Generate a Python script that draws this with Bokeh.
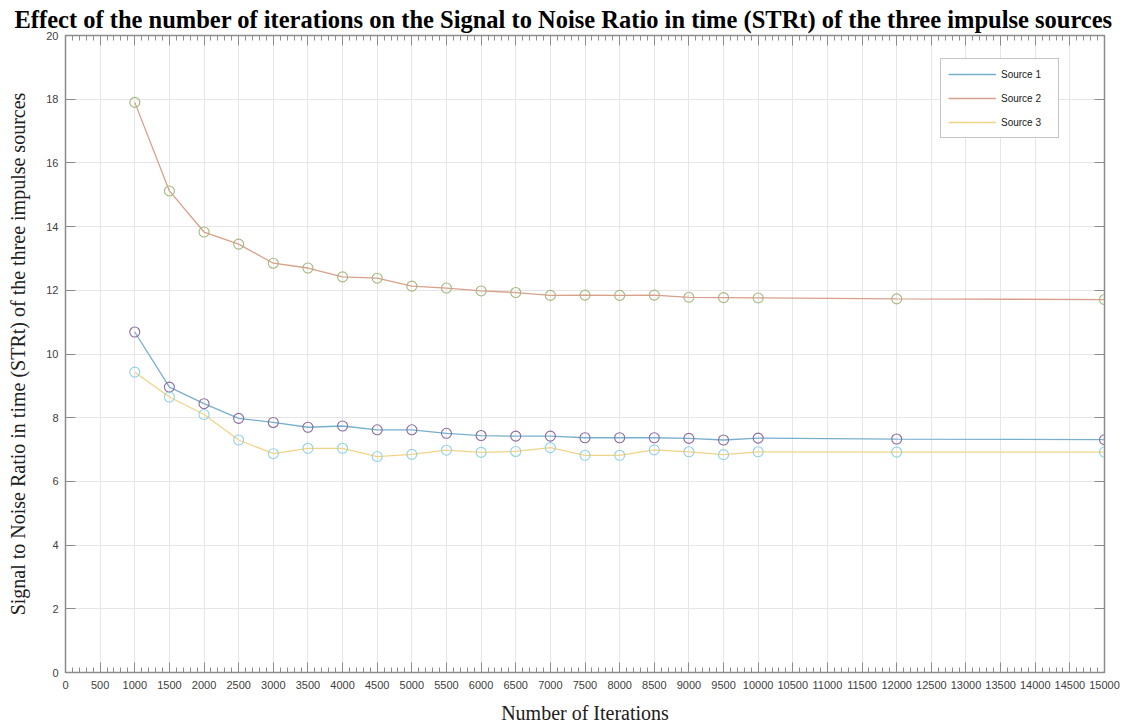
from bokeh.plotting import figure
from bokeh.models import Range1d, LinearAxis, SingleIntervalTicker, Legend, LegendItem
from bokeh.embed import file_html
from bokeh.resources import INLINE

iterations = [1000, 1500, 2000, 2500, 3000, 3500, 4000, 4500, 5000, 5500, 6000, 6500,
              7000, 7500, 8000, 8500, 9000, 9500, 10000, 12000, 15000]
source1 = [10.69, 8.96, 8.44, 7.98, 7.85, 7.70, 7.74, 7.62, 7.62, 7.51, 7.44, 7.42,
           7.42, 7.37, 7.37, 7.37, 7.35, 7.30, 7.36, 7.33, 7.31]
source2 = [17.90, 15.12, 13.83, 13.45, 12.85, 12.70, 12.42, 12.38, 12.13, 12.07, 11.98, 11.93,
           11.84, 11.85, 11.84, 11.85, 11.78, 11.77, 11.76, 11.73, 11.71]
source3 = [9.43, 8.65, 8.10, 7.30, 6.87, 7.04, 7.04, 6.78, 6.85, 6.98, 6.91, 6.94,
           7.06, 6.82, 6.82, 6.99, 6.93, 6.84, 6.93, 6.92, 6.92]
names = ["Source 1", "Source 2", "Source 3"]

line_colors = ["#78b0cc", "#d8a08a", "#f0d486"]
marker_colors = ["#8a6aa0", "#a3b87e", "#93d2e2"]

AX = "#8c8c8c"
TXT = "#404040"

p = figure(width=1120, height=726, output_backend="svg", toolbar_location=None,
           x_range=Range1d(0, 15000), y_range=Range1d(0, 20),
           min_border_left=65, min_border_right=16, min_border_top=35, min_border_bottom=53,
           x_axis_location=None, y_axis_location=None)

p.title.text = "Effect of the number of iterations on the Signal to Noise Ratio in time (STRt) of the three impulse sources"
p.title.text_font = "Liberation Serif"
p.title.text_font_size = "24.5px"
p.title.text_font_style = "bold"
p.title.align = "left"
p.title.text_color = "#000000"
p.title.offset = -51
p.title.standoff = 5

p.outline_line_color = AX
p.outline_line_width = 1.5
p.background_fill_color = "white"
p.border_fill_color = "white"

def make_x_axis(show_labels):
    ax = LinearAxis(ticker=SingleIntervalTicker(interval=500, num_minor_ticks=5))
    ax.major_tick_in = 10
    ax.major_tick_out = 0
    ax.minor_tick_in = 5
    ax.minor_tick_out = 0
    ax.axis_line_color = AX
    ax.major_tick_line_color = AX
    ax.minor_tick_line_color = AX
    if show_labels:
        ax.major_label_text_font = "Liberation Sans"
        ax.major_label_text_font_size = "11px"
        ax.major_label_text_color = TXT
        ax.major_label_standoff = 8
        ax.axis_label = "Number of Iterations"
        ax.axis_label_text_font = "Liberation Serif"
        ax.axis_label_text_font_size = "20px"
        ax.axis_label_text_font_style = "normal"
        ax.axis_label_text_color = "#202020"
        ax.axis_label_standoff = 10
    else:
        ax.major_label_text_font_size = "1px"
        ax.major_label_text_color = None
        ax.major_label_standoff = 0
    return ax

def make_y_axis(show_labels):
    ax = LinearAxis(ticker=SingleIntervalTicker(interval=2, num_minor_ticks=0))
    ax.major_tick_in = 10
    ax.major_tick_out = 0
    ax.minor_tick_line_color = None
    ax.axis_line_color = AX
    ax.major_tick_line_color = AX
    if show_labels:
        ax.major_label_text_font = "Liberation Sans"
        ax.major_label_text_font_size = "11px"
        ax.major_label_text_color = TXT
        ax.major_label_standoff = 7
        ax.axis_label = "Signal to Noise Ratio in time (STRt) of the three impulse sources"
        ax.axis_label_text_font = "Liberation Serif"
        ax.axis_label_text_font_size = "20px"
        ax.axis_label_text_font_style = "normal"
        ax.axis_label_text_color = "#202020"
        ax.axis_label_standoff = 14
    else:
        ax.major_label_text_font_size = "1px"
        ax.major_label_text_color = None
        ax.major_label_standoff = 0
    return ax

p.add_layout(make_x_axis(True), "below")
p.add_layout(make_x_axis(False), "above")
p.add_layout(make_y_axis(True), "left")
p.add_layout(make_y_axis(False), "right")

p.xgrid.ticker = SingleIntervalTicker(interval=500)
p.ygrid.ticker = SingleIntervalTicker(interval=2)
p.xgrid.grid_line_color = "#e6e6e6"
p.ygrid.grid_line_color = "#e6e6e6"

items = []
for name, ys, lc, mc in zip(names, [source1, source2, source3], line_colors, marker_colors):
    r = p.line(iterations, ys, line_color=lc, line_width=1.3)
    p.scatter(iterations, ys, marker="circle", size=10, fill_color=None,
              line_color=mc, line_width=1.1)
    items.append(LegendItem(label=name, renderers=[r]))

legend = Legend(items=items, location=(875, 534))
legend.label_text_font = "Liberation Sans"
legend.label_text_font_size = "10px"
legend.label_text_color = "#202020"
legend.glyph_width = 48
legend.glyph_height = 16
legend.label_height = 16
legend.label_width = 50
legend.label_standoff = 5
legend.spacing = 8
legend.padding = 7
legend.margin = 0
legend.border_line_color = "#8c8c8c"
legend.border_line_width = 1
legend.background_fill_color = "white"
legend.background_fill_alpha = 1
p.add_layout(legend, "center")

open("out.html", "w").write(file_html(p, INLINE))
